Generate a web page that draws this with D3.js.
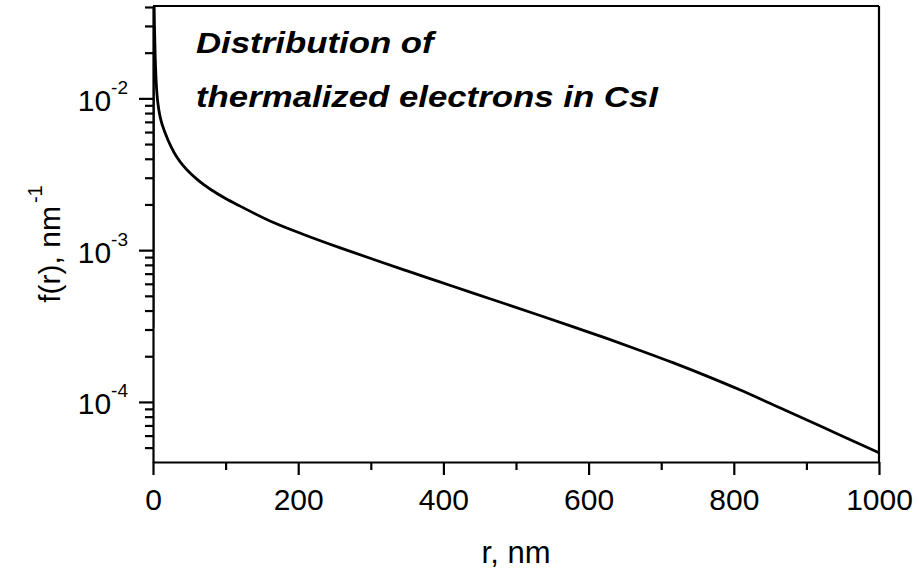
<!DOCTYPE html>
<html>
<head>
<meta charset="utf-8">
<script src="https://cdn.jsdelivr.net/npm/d3@7"></script>
<style>
  html, body { margin: 0; padding: 0; background: #fff; }
  svg { display: block; }
  text { font-family: "Liberation Sans", Arial, sans-serif; fill: #000; }
</style>
</head>
<body>
<svg id="chart" width="919" height="574"></svg>
<script>
// Radial distance r (nm) and distribution f(r) (nm^-1)
const rValues = [0, 1, 2, 3, 4, 5, 6, 8, 11, 16.5, 25, 33, 41, 50, 60, 70, 80, 100, 120, 166,
  212, 258, 303, 349, 395, 441, 487, 533, 579, 625, 671, 717, 763, 809, 854, 900, 946, 1000];
const fValues = [3.09e-4, 5.62e-2, 3.02e-2, 1.905e-2, 1.413e-2, 1.148e-2, 1.0e-2, 8.41e-3,
  7.16e-3, 5.96e-3, 4.79e-3, 4.09e-3, 3.63e-3, 3.26e-3, 2.95e-3, 2.70e-3, 2.50e-3,
  2.19e-3, 1.95e-3, 1.52e-3, 1.245e-3, 1.035e-3, 8.71e-4, 7.33e-4, 6.18e-4, 5.21e-4,
  4.40e-4, 3.71e-4, 3.12e-4, 2.62e-4, 2.183e-4, 1.807e-4, 1.479e-4, 1.197e-4, 9.59e-5,
  7.64e-5, 6.05e-5, 4.62e-5];

const xMajorTicks = [0, 200, 400, 600, 800, 1000];
const xMinorTicks = [100, 300, 500, 700, 900];
const yMajorExponents = [-4, -3, -2];
const xRange = [0, 1000];
const yRange = [4.02e-5, 4.06e-2];

const titleLines = ["Distribution of", "thermalized electrons in CsI"];
const xTitle = "r, nm";
const yTitle = "f(r), nm";
const yTitleSup = "-1";

const svg = d3.select("#chart");
const margin = { left: 153, right: 40, top: 6, bottom: 112 };
const W = 919, H = 574;
const x = d3.scaleLinear().domain(xRange).range([margin.left, W - margin.right]);
const y = d3.scaleLog().domain(yRange).range([H - margin.bottom, margin.top]);

const data = rValues.map((r, i) => ({ r, f: fValues[i] }));

// clip the curve to the plot frame
svg.append("clipPath").attr("id", "plotClip")
  .append("rect")
  .attr("x", x(xRange[0])).attr("y", y(yRange[1]))
  .attr("width", x(xRange[1]) - x(xRange[0]))
  .attr("height", y(yRange[0]) - y(yRange[1]));

const line = d3.line()
  .x(d => x(d.r))
  .y(d => y(d.f))
  .curve(d3.curveMonotoneX);

svg.append("path")
  .datum(data)
  .attr("clip-path", "url(#plotClip)")
  .attr("d", line)
  .attr("fill", "none")
  .attr("stroke", "#000")
  .attr("stroke-width", 2.8)
  .attr("stroke-linejoin", "round");

// frame: top and right edges
svg.append("line")
  .attr("x1", x(xRange[0])).attr("x2", x(xRange[1]))
  .attr("y1", y(yRange[1])).attr("y2", y(yRange[1]))
  .attr("stroke", "#000").attr("stroke-width", 2.2);
svg.append("line")
  .attr("x1", x(xRange[1])).attr("x2", x(xRange[1]))
  .attr("y1", y(yRange[1])).attr("y2", y(yRange[0]))
  .attr("stroke", "#000").attr("stroke-width", 2.2);

// x axis
const xAxisG = svg.append("g").attr("transform", `translate(0,${y(yRange[0])})`);
xAxisG.append("g")
  .call(d3.axisBottom(x).tickValues(xMinorTicks).tickSize(8).tickFormat(""))
  .call(g => g.select(".domain").remove());
xAxisG.append("g")
  .call(d3.axisBottom(x).tickValues(xMajorTicks).tickSize(13).tickSizeOuter(0)
    .tickPadding(14).tickFormat(d3.format("d")))
  .call(g => g.selectAll("text").attr("font-size", 30)
    .attr("font-family", "Liberation Sans, Arial, sans-serif").attr("fill", "#000"));
xAxisG.selectAll("line, path").attr("stroke", "#000").attr("stroke-width", 2.2);

// y axis (log), minor ticks at 2..9 of each decade
const yMinor = [];
for (let e = -5; e <= -1; e++) {
  for (let m = 2; m <= 9; m++) {
    const v = m * Math.pow(10, e);
    if (v > yRange[0] && v < yRange[1]) yMinor.push(v);
  }
}
const yMajor = yMajorExponents.map(e => Math.pow(10, e));

const yAxisG = svg.append("g").attr("transform", `translate(${x(xRange[0])},0)`);
yAxisG.append("g")
  .call(d3.axisLeft(y).tickValues(yMinor).tickSize(8).tickFormat(""))
  .call(g => g.select(".domain").remove());
const yMajorG = yAxisG.append("g")
  .call(d3.axisLeft(y).tickValues(yMajor).tickSize(14).tickSizeOuter(0).tickFormat(""));
yAxisG.selectAll("line, path").attr("stroke", "#000").attr("stroke-width", 2.2);

// power-of-ten labels with superscript exponents
yMajorG.selectAll(".tick").each(function(d) {
  const t = d3.select(this).append("text")
    .attr("x", -25)
    .attr("y", 12)
    .attr("text-anchor", "end")
    .attr("font-size", 30)
    .attr("fill", "#000");
  t.append("tspan").text("10");
  t.append("tspan")
    .attr("dy", -17)
    .attr("font-size", 19)
    .text(String(Math.round(Math.log10(d))));
});

// axis titles
svg.append("text")
  .attr("x", (x(xRange[0]) + x(xRange[1])) / 2)
  .attr("y", 563)
  .attr("text-anchor", "middle")
  .attr("font-size", 31)
  .text(xTitle);

const yt = svg.append("text")
  .attr("transform", `translate(60,${(y(yRange[0]) + y(yRange[1])) / 2 + 10}) rotate(-90)`)
  .attr("text-anchor", "middle")
  .attr("font-size", 30);
yt.append("tspan").text(yTitle);
yt.append("tspan").attr("dy", -18).attr("dx", 3).attr("font-size", 20).text(yTitleSup);

// in-plot caption (wide bold italic lettering)
svg.append("g").selectAll("text")
  .data(titleLines)
  .join("text")
  .attr("transform", (d, i) => `translate(196,${53 + i * 54}) scale(1.16,1)`)
  .attr("font-size", 30)
  .attr("font-weight", "bold")
  .attr("font-style", "italic")
  .text(d => d);
</script>
</body>
</html>
